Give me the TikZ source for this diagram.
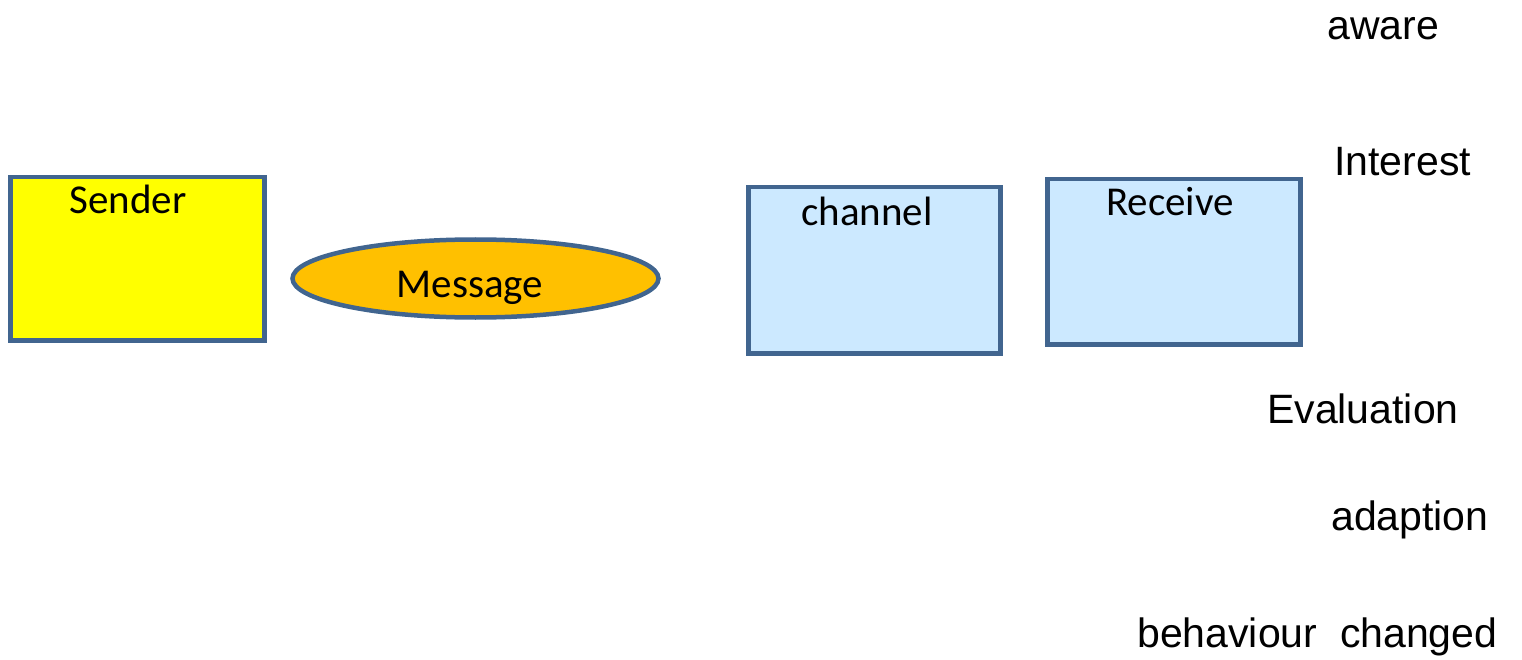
\documentclass[tikz,border=0pt]{standalone}
\usepackage{fontspec}
\setmainfont{Carlito}
\newfontfamily\arialfont{Liberation Sans}
\usetikzlibrary{shapes.geometric}
\definecolor{edgeblue}{HTML}{41658F}
\definecolor{paleblue}{HTML}{CCE9FF}
\definecolor{sendyellow}{HTML}{FFFF00}
\definecolor{msgorange}{HTML}{FFC000}
\tikzset{
  box/.style={draw=edgeblue, line width=4.5pt, rectangle, inner sep=0pt, anchor=north west},
  oval/.style={draw=edgeblue, line width=4.5pt, ellipse, inner sep=0pt},
  boxtext/.style={anchor=base, inner sep=0pt, font=\fontsize{41}{49}\selectfont},
  stage/.style={anchor=base west, inner sep=0pt, font=\arialfont\fontsize{41}{49}\selectfont}
}
\begin{document}
\begin{tikzpicture}[x=1pt,y=1pt]
\useasboundingbox (0,0) rectangle (1522,-660);
\fill[white] (0,0) rectangle (1522,-660);

% sender box
\node[box, fill=sendyellow, minimum width=254pt, minimum height=163pt] (sender) at (8,-175) {};
\node[boxtext] (sendertxt) at (128,-214) {Sender};

% message oval
\node[oval, fill=msgorange, minimum width=366pt, minimum height=78pt] (message) at (475.5,-278.5) {};
\node[boxtext] (messagetxt) at (470,-297) {Message};

% channel box
\node[box, fill=paleblue, minimum width=252pt, minimum height=166pt] (channel) at (746,-185) {};
\node[boxtext] (channeltxt) at (867,-226) {channel};

% receive box
\node[box, fill=paleblue, minimum width=253pt, minimum height=165pt] (receive) at (1045,-177) {};
\node[boxtext] (receivetxt) at (1170,-216) {Receive};

% adoption stages
\node[stage] (aware) at (1327,-40) {aware};
\node[stage] (interest) at (1334,-176) {Interest};
\node[stage] (evaluation) at (1267,-423) {Evaluation};
\node[stage] (adaption) at (1331,-530) {adaption};
\node[stage] (behaviour) at (1137,-647) {behaviour\ \ changed};
\end{tikzpicture}
\end{document}
